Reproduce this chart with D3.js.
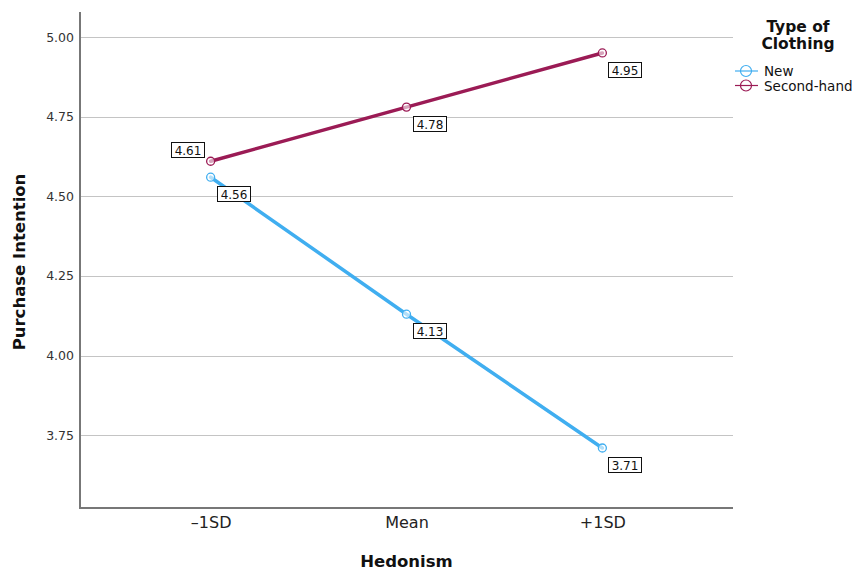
<!DOCTYPE html>
<html>
<head>
<meta charset="utf-8">
<script src="https://cdn.jsdelivr.net/npm/d3@7"></script>
<style>
  html, body { margin: 0; padding: 0; background: #fff; }
  svg { display: block; font-family: "DejaVu Sans", sans-serif; }
</style>
</head>
<body>
<svg id="chart" width="864" height="570"></svg>
<script>
const categories = ["-1SD", "Mean", "+1SD"];
const seriesNames = ["New", "Second-hand"];
const newValues = [4.56, 4.13, 3.71];
const secondHandValues = [4.61, 4.78, 4.95];
const yTicks = [3.75, 4.00, 4.25, 4.50, 4.75, 5.00];
const colors = ["#40aef0", "#9b1b55"];

const svg = d3.select("#chart");
const pLeft = 80, pRight = 733, pTop = 12, pBottom = 508;

const x = d3.scalePoint().domain(categories).range([pLeft, pRight]).padding(0.667);
const y = d3.scaleLinear().domain([3.5217, 5.0785]).range([pBottom, pTop]);

// gridlines
svg.append("g").selectAll("line").data(yTicks).join("line")
  .attr("x1", pLeft).attr("x2", pRight)
  .attr("y1", d => Math.round(y(d)) + 0.5).attr("y2", d => Math.round(y(d)) + 0.5)
  .attr("stroke", "#c4c4c4").attr("stroke-width", 1);

// y axis
const yAxis = svg.append("g").attr("transform", `translate(${pLeft},0)`)
  .call(d3.axisLeft(y).tickValues(yTicks).tickFormat(d3.format(".2f")).tickSize(0).tickPadding(6));
yAxis.select(".domain").remove();
yAxis.selectAll("text").attr("font-size", 12.5).attr("fill", "#333").attr("font-family", "DejaVu Sans");

// x axis
const xAxis = svg.append("g").attr("transform", `translate(0,${pBottom})`)
  .call(d3.axisBottom(x).tickSize(0).tickPadding(9).tickFormat(d => d === "-1SD" ? "\u20131SD" : d));
xAxis.select(".domain").remove();
xAxis.selectAll("text").attr("font-size", 16).attr("fill", "#222").attr("font-family", "DejaVu Sans");

// axis lines
svg.append("line").attr("x1", pLeft).attr("x2", pLeft).attr("y1", pTop).attr("y2", pBottom)
  .attr("stroke", "#777").attr("stroke-width", 2);
svg.append("line").attr("x1", pLeft - 1).attr("x2", pRight).attr("y1", pBottom).attr("y2", pBottom)
  .attr("stroke", "#777").attr("stroke-width", 2);

// axis titles
svg.append("text").attr("x", (pLeft + pRight) / 2).attr("y", 567)
  .attr("text-anchor", "middle").attr("font-weight", "bold").attr("font-size", 16.5)
  .attr("fill", "#111").text("Hedonism");
svg.append("text").attr("transform", `translate(25,${(pTop + pBottom) / 2 + 2}) rotate(-90)`)
  .attr("text-anchor", "middle").attr("font-weight", "bold").attr("font-size", 16.5)
  .attr("fill", "#111").text("Purchase Intention");

// series
const series = [
  { name: seriesNames[0], values: newValues, color: colors[0] },
  { name: seriesNames[1], values: secondHandValues, color: colors[1] }
];
const line = d3.line().x((d, i) => x(categories[i])).y(d => y(d));

series.forEach(s => {
  svg.append("path").datum(s.values).attr("d", line)
    .attr("fill", "none").attr("stroke", s.color).attr("stroke-width", 3.5)
    .attr("stroke-linecap", "round");
  svg.append("g").selectAll("circle").data(s.values).join("circle")
    .attr("cx", (d, i) => x(categories[i])).attr("cy", d => y(d)).attr("r", 4)
    .attr("fill", "#fff").attr("fill-opacity", 0.6)
    .attr("stroke", s.color).attr("stroke-width", 1.3);
});

// data labels
series.forEach((s, si) => {
  s.values.forEach((v, i) => {
    const px = x(categories[i]), py = y(v);
    const aboveLeft = (si === 1 && i === 0);
    const g = svg.append("g");
    const txt = g.append("text").attr("font-size", 12).attr("fill", "#111")
      .text(v.toFixed(2));
    const w = txt.node().getComputedTextLength() + 6;
    const h = 15;
    const bx = aboveLeft ? px - 7 - w : px + 6;
    const by = aboveLeft ? py - 4 - h : py + 9;
    g.insert("rect", "text").attr("x", Math.round(bx) + 0.5).attr("y", Math.round(by) + 0.5)
      .attr("width", Math.round(w)).attr("height", h)
      .attr("fill", "#fff").attr("stroke", "#111").attr("stroke-width", 1);
    txt.attr("x", Math.round(bx) + 0.5 + Math.round(w) / 2).attr("y", Math.round(by) + 12.5)
      .attr("text-anchor", "middle");
  });
});

// legend
const lg = svg.append("g");
lg.append("text").attr("x", 798).attr("y", 32).attr("text-anchor", "middle")
  .attr("font-weight", "bold").attr("font-size", 15.5).attr("fill", "#111").text("Type of");
lg.append("text").attr("x", 798).attr("y", 49).attr("text-anchor", "middle")
  .attr("font-weight", "bold").attr("font-size", 15.5).attr("fill", "#111").text("Clothing");
series.forEach((s, i) => {
  const cy = 71 + i * 14.5;
  lg.append("line").attr("x1", 735).attr("x2", 758).attr("y1", cy).attr("y2", cy)
    .attr("stroke", s.color).attr("stroke-width", 1.2);
  lg.append("circle").attr("cx", 746).attr("cy", cy).attr("r", 5.5)
    .attr("fill", "none").attr("stroke", s.color).attr("stroke-width", 1.2);
  lg.append("text").attr("x", 764).attr("y", cy + 5).attr("font-size", 13.5)
    .attr("fill", "#111").text(s.name);
});
</script>
</body>
</html>
